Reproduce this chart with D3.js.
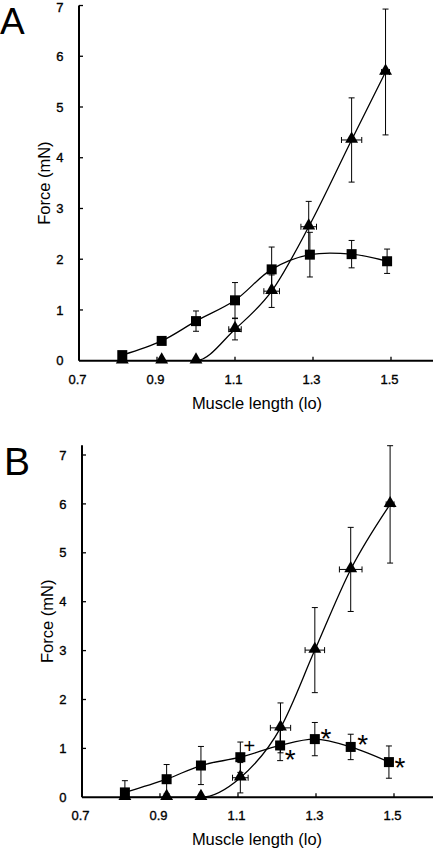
<!DOCTYPE html>
<html><head><meta charset="utf-8">
<script src="https://cdn.jsdelivr.net/npm/d3@7"></script>
<style>
html,body{margin:0;padding:0;background:#fff;}
text{font-family:"Liberation Sans",Arial,sans-serif;fill:#000;}
</style></head>
<body>
<svg id="chart" width="433" height="850"></svg>
<script>
// ---- Data ----
const xTicks = [0.7, 0.9, 1.1, 1.3, 1.5];
const yTicks = [0, 1, 2, 3, 4, 5, 6, 7];

// Panel A
const aSqX   = [0.811, 0.912, 1.000, 1.100, 1.194, 1.292, 1.399, 1.490];
const aSqY   = [0.11, 0.39, 0.78, 1.19, 1.80, 2.09, 2.10, 1.96];
const aSqErr = [0.04, 0.04, 0.20, 0.35, 0.44, 0.44, 0.27, 0.24];
const aTrX   = [0.811, 0.912, 1.000, 1.100, 1.194, 1.289, 1.399, 1.486];
const aTrY   = [0, 0, 0, 0.62, 1.37, 2.64, 4.35, 5.69];
const aTrErr = [0, 0, 0, 0.21, 0.32, 0.50, 0.83, 1.24];
const aTrXErr= [0, 0, 0, 0.016, 0.020, 0.020, 0.026, 0.010];

// Panel B
const bSqX   = [0.810, 0.917, 1.005, 1.106, 1.208, 1.297, 1.389, 1.487];
const bSqY   = [0.10, 0.37, 0.65, 0.82, 1.06, 1.19, 1.03, 0.72];
const bSqErr = [0.24, 0.30, 0.39, 0.31, 0.31, 0.34, 0.26, 0.33];
const bTrX   = [0.810, 0.917, 1.005, 1.106, 1.209, 1.297, 1.389, 1.490];
const bTrY   = [0, 0, 0, 0.40, 1.42, 3.01, 4.66, 5.99];
const bTrErr = [0, 0, 0, 0.31, 0.51, 0.87, 0.86, 1.20];
const bTrXErr= [0, 0, 0, 0.020, 0.026, 0.025, 0.029, 0.010];
// significance marks on panel B squares (index -> symbol)
const bMarks = ["", "", "", "+", "*", "*", "*", "*"];

const svg = d3.select("#chart");

function panel(cfg) {
  const g = svg.append("g");
  const x = d3.scaleLinear().domain([0.7, 1.6]).range([cfg.x0, cfg.x0 + 0.9 * 390]);
  const y = d3.scaleLinear().domain([0, cfg.yMax]).range([cfg.y0, cfg.y0 - cfg.yMax * cfg.ppu]);

  const clipId = "clip" + cfg.letter;
  svg.append("clipPath").attr("id", clipId).append("rect")
    .attr("x", x(0.7)).attr("y", y(cfg.yMax)).attr("width", x(1.6) - x(0.7)).attr("height", y(0) - y(cfg.yMax));

  // Curves
  const sq = cfg.sqX.map((v, i) => ({x: v, y: cfg.sqY[i], e: cfg.sqErr[i], m: cfg.marks ? cfg.marks[i] : ""}));
  const tr = cfg.trX.map((v, i) => ({x: v, y: cfg.trY[i], e: cfg.trErr[i], xe: cfg.trXErr[i]}));
  const lineSq = d3.line().x(d => x(d.x)).y(d => y(d.y)).curve(d3.curveCatmullRom.alpha(0.5));
  const lineTr = d3.line().x(d => x(d.x)).y(d => y(d.y)).curve(d3.curveMonotoneX);
  const cg = g.append("g").attr("clip-path", `url(#${clipId})`);
  cg.append("path").attr("d", lineSq(sq)).attr("fill", "none").attr("stroke", "#000").attr("stroke-width", 1.3);
  cg.append("path").attr("d", lineTr(tr)).attr("fill", "none").attr("stroke", "#000").attr("stroke-width", 1.3);

  // Axes
  const xAxis = d3.axisBottom(x).tickValues(xTicks).tickSize(0).tickFormat(d3.format(".1f"));
  const xg = g.append("g").attr("transform", `translate(0,${y(0)})`).call(xAxis);
  xg.select(".domain").remove();
  xg.selectAll("text").attr("font-size", 13).attr("dy", null).attr("y", 23).attr("dx", -2)
    .attr("stroke", "#000").attr("stroke-width", 0.35)
    .style("font-family", '"Liberation Sans",Arial,sans-serif');
  g.append("line").attr("x1", x(0.7)).attr("x2", 433).attr("y1", y(0)).attr("y2", y(0))
    .attr("stroke", "#000").attr("stroke-width", 2);
  g.selectAll(".xt").data(xTicks.slice(1)).join("line")
    .attr("x1", d => x(d)).attr("x2", d => x(d)).attr("y1", y(0)).attr("y2", y(0) - 4)
    .attr("stroke", "#000").attr("stroke-width", 1.3);

  const yAxis = d3.axisLeft(y).tickValues(yTicks).tickSize(0).tickFormat(d3.format("d"));
  const yg = g.append("g").attr("transform", `translate(${x(0.7)},0)`).call(yAxis);
  yg.select(".domain").remove();
  yg.selectAll("text").attr("font-size", 13).attr("x", -15.5)
    .attr("stroke", "#000").attr("stroke-width", 0.35)
    .attr("dy", d => d === 7 && cfg.letter === "A" ? "0.45em" : "0.32em")
    .style("font-family", '"Liberation Sans",Arial,sans-serif');
  g.append("line").attr("x1", x(0.7)).attr("x2", x(0.7)).attr("y1", y(0)).attr("y2", y(cfg.yMax))
    .attr("stroke", "#000").attr("stroke-width", 2);
  g.selectAll(".yt").data(yTicks.slice(1)).join("line")
    .attr("x1", x(0.7)).attr("x2", x(0.7) + 4).attr("y1", d => y(d)).attr("y2", d => y(d))
    .attr("stroke", "#000").attr("stroke-width", 1.3);

  // Axis titles
  g.append("text").attr("x", 257).attr("y", y(0) + 48).attr("text-anchor", "middle")
    .attr("font-size", 16.5).text("Muscle length (lo)");
  g.append("text").attr("transform", `translate(${x(0.7) - 29},${(y(0) + y(cfg.yMax)) / 2}) rotate(-90)`)
    .attr("text-anchor", "middle").attr("font-size", 16.5).text("Force (mN)");
  g.append("text").attr("x", cfg.lx).attr("y", cfg.ly).attr("font-size", cfg.lfs).text(cfg.letter);

  // Error bars
  const eb = g.append("g").attr("stroke", "#000").attr("stroke-width", 1);
  const cap = 3;
  function vbar(d) {
    if (!d.e) return;
    const yt = y(d.y + d.e), yb = y(Math.max(0, d.y - d.e)), cx = x(d.x);
    eb.append("line").attr("x1", cx).attr("x2", cx).attr("y1", yt).attr("y2", yb);
    eb.append("line").attr("x1", cx - cap).attr("x2", cx + cap).attr("y1", yt).attr("y2", yt);
    if (d.y - d.e > 0) eb.append("line").attr("x1", cx - cap).attr("x2", cx + cap).attr("y1", yb).attr("y2", yb);
  }
  function hbar(d) {
    if (!d.xe) return;
    const xl = x(d.x - d.xe), xr = x(d.x + d.xe), cy = y(d.y);
    eb.append("line").attr("x1", xl).attr("x2", xr).attr("y1", cy).attr("y2", cy);
    eb.append("line").attr("x1", xl).attr("x2", xl).attr("y1", cy - cap).attr("y2", cy + cap);
    eb.append("line").attr("x1", xr).attr("x2", xr).attr("y1", cy - cap).attr("y2", cy + cap);
  }
  sq.forEach(vbar); tr.forEach(vbar); tr.forEach(hbar);

  // Markers
  g.selectAll(".sq").data(sq).join("rect")
    .attr("x", d => x(d.x) - 5).attr("y", d => y(d.y) - 5).attr("width", 10).attr("height", 10).attr("fill", "#000");
  const tri = d3.symbol().type(d3.symbolTriangle).size(72);
  g.selectAll(".tr").data(tr).join("path")
    .attr("d", tri).attr("transform", d => `translate(${x(d.x)},${y(d.y) - 1})`).attr("fill", "#000");

  // Significance marks
  if (cfg.marks) {
    const off = {4: [10, 9], 5: [11, -6], 6: [12, -8], 7: [11, 0], 3: [9, -11]};
    sq.forEach((d, i) => {
      if (!d.m) return;
      const o = off[i] || [10, 0];
      if (d.m === "*") {
        g.append("text").attr("x", x(d.x) + o[0]).attr("y", y(d.y) + o[1] + 15)
          .attr("text-anchor", "middle").attr("font-size", 28).text("*");
      } else {
        g.append("text").attr("x", x(d.x) + o[0]).attr("y", y(d.y) + o[1] + 7)
          .attr("text-anchor", "middle").attr("font-size", 20).attr("font-weight", 300).text(d.m);
      }
    });
  }
}

panel({letter: "A", lx: 0, ly: 34, lfs: 37, x0: 79, y0: 360.7, ppu: 50.74, yMax: 7,
  sqX: aSqX, sqY: aSqY, sqErr: aSqErr, trX: aTrX, trY: aTrY, trErr: aTrErr, trXErr: aTrXErr});
panel({letter: "B", lx: 4, ly: 475, lfs: 39, x0: 82, y0: 797.3, ppu: 48.9, yMax: 7.2,
  sqX: bSqX, sqY: bSqY, sqErr: bSqErr, trX: bTrX, trY: bTrY, trErr: bTrErr, trXErr: bTrXErr, marks: bMarks});
</script>
</body></html>
